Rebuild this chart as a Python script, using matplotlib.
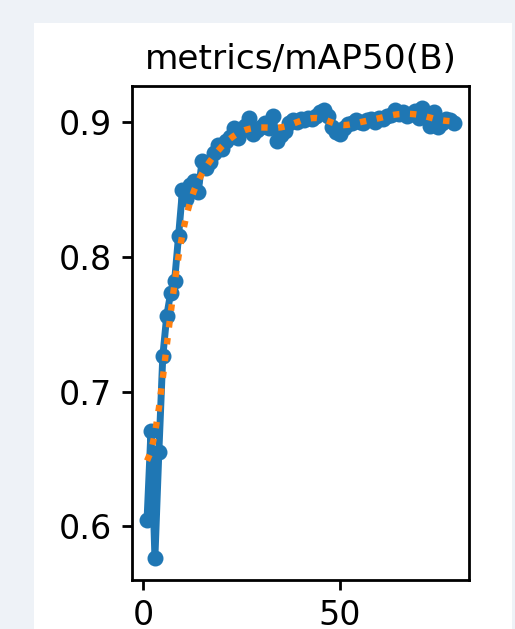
import numpy as np
import matplotlib
matplotlib.use("Agg")
import matplotlib.pyplot as plt
from matplotlib.patches import Rectangle

title = "metrics/mAP50(B)"
epochs = list(range(1, 80))
map50 = [
    0.605, 0.671, 0.577, 0.655, 0.726, 0.756, 0.773, 0.782, 0.815, 0.849,
    0.843, 0.853, 0.856, 0.848, 0.871, 0.866, 0.870, 0.877, 0.883, 0.880,
    0.886, 0.889, 0.895, 0.888, 0.893, 0.897, 0.903, 0.891, 0.894, 0.896,
    0.899, 0.895, 0.904, 0.886, 0.890, 0.893, 0.899, 0.901, 0.900, 0.902,
    0.901, 0.903, 0.902, 0.904, 0.907, 0.909, 0.904, 0.896, 0.892, 0.891,
    0.895, 0.898, 0.899, 0.901, 0.900, 0.899, 0.901, 0.902, 0.900, 0.903,
    0.902, 0.904, 0.905, 0.909, 0.906, 0.907, 0.904, 0.906, 0.908, 0.903,
    0.910, 0.906, 0.897, 0.907, 0.896, 0.899, 0.902, 0.901, 0.899,
]


def gaussian_smooth(values, sigma=3.0):
    v = np.asarray(values, dtype=float)
    r = int(4 * sigma + 0.5)
    k = np.arange(-r, r + 1)
    w = np.exp(-0.5 * (k / sigma) ** 2)
    w /= w.sum()
    padded = np.pad(v, r, mode="symmetric")
    return np.convolve(padded, w, mode="valid")


DPI = 200
fig = plt.figure(figsize=(515 / DPI, 629 / DPI), dpi=DPI)
fig.patch.set_facecolor("#eef2f7")
bg = Rectangle((34 / 515, 0), (512 - 34) / 515, 1 - 23 / 629,
               transform=fig.transFigure, facecolor="white",
               edgecolor="none", zorder=-10)
fig.add_artist(bg)

ax = fig.add_axes([131.7 / 515, 1 - 580 / 629, (469.3 - 131.7) / 515, (580 - 85.7) / 629])
ax.set_zorder(1)
ax.plot(epochs, map50, marker=".", label="results", linewidth=2.5, markersize=9.5)
ax.plot(epochs, gaussian_smooth(map50, 3), ":", label="smooth", linewidth=2.3)
ax.set_title(title, fontsize=12.4)
ax.set_yticks([0.6, 0.7, 0.8, 0.9])
ax.set_xticks([0, 50])
ax.tick_params(labelsize=12, width=1.0)
for s in ax.spines.values():
    s.set_linewidth(1.0)

fig.savefig("out.png", dpi=DPI, facecolor=fig.get_facecolor())
